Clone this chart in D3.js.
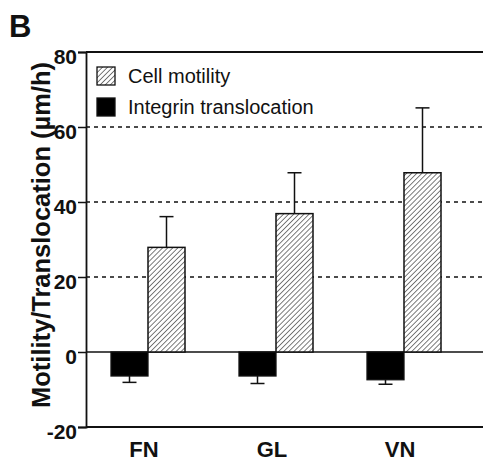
<!DOCTYPE html>
<html>
<head>
<meta charset="utf-8">
<script src="https://cdn.jsdelivr.net/npm/d3@7"></script>
<style>
  body { margin: 0; background: #fff; }
  text { font-family: "Liberation Sans", Arial, Helvetica, sans-serif; fill: #111; }
</style>
</head>
<body>
<svg id="chart" width="483" height="462"></svg>
<script>
// values
const categories = ["FN", "GL", "VN"];
const motility = [27.9, 36.9, 47.8];
const motilityErr = [8.2, 10.9, 17.3];
const translocation = [-6.4, -6.4, -7.4];
const translocationErr = [1.7, 2.0, 1.2];
const yTicks = [-20, 0, 20, 40, 60, 80];
const gridValues = [20, 40, 60];
const legendItems = ["Cell motility", "Integrin translocation"];

const width = 483;
const height = 462;
const left = 86;

const svg = d3.select("#chart");

const y = d3.scaleLinear().domain([-20, 80]).range([427, 52]);
const x = d3.scaleBand().domain(categories).range([84, 468]).padding(0);
const sub = d3.scaleBand()
    .domain(["translocation", "motility"])
    .range([x.bandwidth() / 2 - 37, x.bandwidth() / 2 + 37]);

// hatch pattern
const defs = svg.append("defs");
const pat = defs.append("pattern")
    .attr("id", "hatch")
    .attr("patternUnits", "userSpaceOnUse")
    .attr("width", 3.6)
    .attr("height", 3.6)
    .attr("patternTransform", "rotate(45)");
pat.append("rect").attr("width", 3.6).attr("height", 3.6).attr("fill", "#fff");
pat.append("line")
    .attr("x1", 0).attr("y1", 0).attr("x2", 0).attr("y2", 3.6)
    .attr("stroke", "#111").attr("stroke-width", 1.1);

// dashed grid
svg.append("g")
    .selectAll("line")
    .data(gridValues)
    .enter().append("line")
    .attr("x1", left).attr("x2", width)
    .attr("y1", d => y(d)).attr("y2", d => y(d))
    .attr("stroke", "#111")
    .attr("stroke-width", 1.7)
    .attr("stroke-dasharray", "4,4");

// frame lines
svg.append("line")
    .attr("x1", left).attr("x2", width)
    .attr("y1", y(80)).attr("y2", y(80))
    .attr("stroke", "#111").attr("stroke-width", 2);
svg.append("line")
    .attr("x1", left).attr("x2", width)
    .attr("y1", y(-20)).attr("y2", y(-20))
    .attr("stroke", "#111").attr("stroke-width", 2);
svg.append("line")
    .attr("x1", left).attr("x2", width)
    .attr("y1", y(0)).attr("y2", y(0))
    .attr("stroke", "#111").attr("stroke-width", 1.5);

// y axis
const yAxis = svg.append("g")
    .attr("transform", "translate(" + left + ",0)")
    .call(d3.axisLeft(y).tickValues(yTicks).tickSize(8).tickPadding(1).tickFormat(d => String(d)));
yAxis.select(".domain").attr("stroke", "#111").attr("stroke-width", 1.8);
yAxis.selectAll(".tick line").attr("stroke", "#111").attr("stroke-width", 1.5);
yAxis.selectAll(".tick text")
    .attr("font-size", 21)
    .attr("font-weight", "bold")
    .attr("font-family", "'Liberation Sans', Arial, sans-serif")
    .attr("fill", "#111")
    .attr("dy", "0.55em");

// bars
const groups = svg.append("g")
    .selectAll("g")
    .data(categories)
    .enter().append("g")
    .attr("transform", d => "translate(" + x(d) + ",0)");

groups.append("rect")
    .attr("x", sub("translocation"))
    .attr("width", sub.bandwidth())
    .attr("y", y(0))
    .attr("height", (d, i) => y(translocation[i]) - y(0))
    .attr("fill", "#000")
    .attr("stroke", "#111")
    .attr("stroke-width", 1.3);

groups.append("rect")
    .attr("x", sub("motility"))
    .attr("width", sub.bandwidth())
    .attr("y", (d, i) => y(motility[i]))
    .attr("height", (d, i) => y(0) - y(motility[i]))
    .attr("fill", "url(#hatch)")
    .attr("stroke", "#111")
    .attr("stroke-width", 1.5);

// error bars
const cap = 7;
groups.each(function (d, i) {
    const g = d3.select(this);
    const mx = sub("motility") + sub.bandwidth() / 2;
    g.append("line")
        .attr("x1", mx).attr("x2", mx)
        .attr("y1", y(motility[i])).attr("y2", y(motility[i] + motilityErr[i]))
        .attr("stroke", "#111").attr("stroke-width", 1.5);
    g.append("line")
        .attr("x1", mx - cap).attr("x2", mx + cap)
        .attr("y1", y(motility[i] + motilityErr[i])).attr("y2", y(motility[i] + motilityErr[i]))
        .attr("stroke", "#111").attr("stroke-width", 1.5);

    const tx = sub("translocation") + sub.bandwidth() / 2;
    g.append("line")
        .attr("x1", tx).attr("x2", tx)
        .attr("y1", y(translocation[i])).attr("y2", y(translocation[i] - translocationErr[i]))
        .attr("stroke", "#111").attr("stroke-width", 1.5);
    g.append("line")
        .attr("x1", tx - cap).attr("x2", tx + cap)
        .attr("y1", y(translocation[i] - translocationErr[i])).attr("y2", y(translocation[i] - translocationErr[i]))
        .attr("stroke", "#111").attr("stroke-width", 1.5);
});

// category labels
svg.append("g")
    .selectAll("text")
    .data(categories)
    .enter().append("text")
    .attr("x", d => x(d) + x.bandwidth() / 2 - 4)
    .attr("y", 457)
    .attr("text-anchor", "middle")
    .attr("font-size", 22)
    .attr("font-weight", "bold")
    .text(d => d);

// y title
svg.append("text")
    .attr("transform", "translate(50,235) rotate(-90)")
    .attr("text-anchor", "middle")
    .attr("font-size", 25)
    .attr("font-weight", "bold")
    .attr("textLength", 346)
    .attr("lengthAdjust", "spacingAndGlyphs")
    .text("Motility/Translocation (µm/h)");

// panel letter
svg.append("text")
    .attr("x", 9)
    .attr("y", 37)
    .attr("font-size", 31)
    .attr("font-weight", "bold")
    .text("B");

// legend
const legend = svg.append("g")
    .selectAll("g")
    .data(legendItems)
    .enter().append("g")
    .attr("transform", (d, i) => "translate(97," + (67 + i * 31) + ")");
legend.append("rect")
    .attr("width", 18).attr("height", 18)
    .attr("fill", (d, i) => i === 0 ? "url(#hatch)" : "#000")
    .attr("stroke", "#111").attr("stroke-width", 1.3);
legend.append("text")
    .attr("x", 31)
    .attr("y", 16)
    .attr("font-size", 20)
    .text(d => d);
</script>
</body>
</html>
